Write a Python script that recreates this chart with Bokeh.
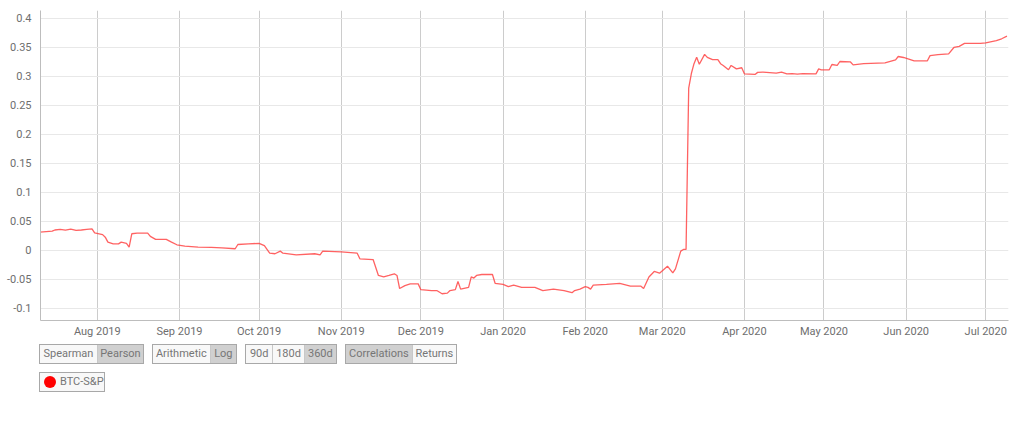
from datetime import datetime
import pandas as pd
from bokeh.plotting import figure
from bokeh.models import (Range1d, MonthsTicker, DatetimeTickFormatter, FixedTicker,
                          CustomJSTickFormatter, Div, ColumnDataSource)
from bokeh.layouts import column
from bokeh.embed import file_html
from bokeh.resources import INLINE

# ---- data ----
series_name = "BTC-S&P"
dates = [
    "2019-07-10", "2019-07-15", "2019-07-16", "2019-07-18", "2019-07-20", "2019-07-22",
    "2019-07-24", "2019-07-26", "2019-07-28", "2019-07-30", "2019-07-31", "2019-08-03",
    "2019-08-04", "2019-08-05", "2019-08-07", "2019-08-09", "2019-08-10", "2019-08-12",
    "2019-08-13", "2019-08-14", "2019-08-16", "2019-08-20", "2019-08-21", "2019-08-23",
    "2019-08-27", "2019-08-29", "2019-08-31", "2019-09-03", "2019-09-08", "2019-09-13",
    "2019-09-17", "2019-09-22", "2019-09-23", "2019-09-27", "2019-10-01", "2019-10-03",
    "2019-10-05", "2019-10-07", "2019-10-09", "2019-10-10", "2019-10-15", "2019-10-22",
    "2019-10-24", "2019-10-25", "2019-11-01", "2019-11-07", "2019-11-08", "2019-11-13",
    "2019-11-15", "2019-11-17", "2019-11-19", "2019-11-21", "2019-11-22", "2019-11-23",
    "2019-11-25", "2019-11-27", "2019-11-30", "2019-12-01", "2019-12-05", "2019-12-07",
    "2019-12-09", "2019-12-11", "2019-12-12", "2019-12-14", "2019-12-15", "2019-12-16",
    "2019-12-19", "2019-12-20", "2019-12-21", "2019-12-22", "2019-12-24", "2019-12-28",
    "2019-12-29", "2020-01-01", "2020-01-03", "2020-01-05", "2020-01-08", "2020-01-13",
    "2020-01-16", "2020-01-20", "2020-01-24", "2020-01-27", "2020-01-28", "2020-01-30",
    "2020-02-01", "2020-02-02", "2020-02-03", "2020-02-04", "2020-02-09", "2020-02-14",
    "2020-02-18", "2020-02-22", "2020-02-23", "2020-02-25", "2020-02-27", "2020-02-29",
    "2020-03-03", "2020-03-05", "2020-03-06", "2020-03-08", "2020-03-09", "2020-03-10",
    "2020-03-11", "2020-03-12", "2020-03-13", "2020-03-14", "2020-03-15", "2020-03-17",
    "2020-03-18", "2020-03-20", "2020-03-22", "2020-03-23", "2020-03-24", "2020-03-26",
    "2020-03-27", "2020-03-29", "2020-03-31", "2020-04-01", "2020-04-05", "2020-04-06",
    "2020-04-08", "2020-04-13", "2020-04-15", "2020-04-17", "2020-04-19", "2020-04-21",
    "2020-04-23", "2020-04-28", "2020-04-29", "2020-04-30", "2020-05-03", "2020-05-04",
    "2020-05-06", "2020-05-07", "2020-05-11", "2020-05-12", "2020-05-16", "2020-05-24",
    "2020-05-28", "2020-05-29", "2020-05-31", "2020-06-02", "2020-06-04", "2020-06-09",
    "2020-06-10", "2020-06-13", "2020-06-17", "2020-06-19", "2020-06-21", "2020-06-23",
    "2020-06-29", "2020-07-01", "2020-07-05", "2020-07-07", "2020-07-09",
]
values = [
    0.031, 0.033, 0.035, 0.0359, 0.0347, 0.0364,
    0.0342, 0.035, 0.036, 0.037, 0.030, 0.027,
    0.0226, 0.014, 0.011, 0.011, 0.014, 0.012,
    0.0054, 0.0285, 0.0295, 0.0295, 0.024, 0.0187,
    0.0187, 0.014, 0.0095, 0.007, 0.0054, 0.005,
    0.004, 0.0026, 0.010, 0.011, 0.012, 0.008,
    -0.005, -0.006, -0.0015, -0.005, -0.0078, -0.006,
    -0.0078, -0.0015, -0.0026, -0.005, -0.0147, -0.016,
    -0.0435, -0.046, -0.0435, -0.0406, -0.0435, -0.066,
    -0.061, -0.058, -0.058, -0.068, -0.0695, -0.0695,
    -0.075, -0.074, -0.0695, -0.068, -0.0538, -0.067,
    -0.064, -0.046, -0.048, -0.0435, -0.0418, -0.0418,
    -0.057, -0.059, -0.0627, -0.060, -0.064, -0.064,
    -0.0695, -0.067, -0.0695, -0.0733, -0.0695, -0.067,
    -0.0627, -0.064, -0.067, -0.0602, -0.059, -0.0573,
    -0.062, -0.062, -0.066, -0.046, -0.0366, -0.0395,
    -0.0274, -0.039, -0.032, -0.0015, 0.0014, 0.0014,
    0.280, 0.305, 0.322, 0.333, 0.321, 0.338,
    0.333, 0.329, 0.329, 0.322, 0.319, 0.3115,
    0.319, 0.313, 0.315, 0.3045, 0.3034, 0.307,
    0.3075, 0.3056, 0.3075, 0.3045, 0.305, 0.304,
    0.305, 0.3045, 0.313, 0.3115, 0.3115, 0.3206,
    0.319, 0.3258, 0.325, 0.320, 0.322, 0.3235,
    0.3287, 0.3344, 0.3327, 0.330, 0.327, 0.327,
    0.336, 0.3378, 0.339, 0.350, 0.352, 0.357,
    0.357, 0.358, 0.362, 0.365, 0.3695,
]
y_ticks = [-0.1, -0.05, 0, 0.05, 0.1, 0.15, 0.2, 0.25, 0.3, 0.35, 0.4]
group_buttons = [
    [("Spearman", False, 58), ("Pearson", True, 47)],
    [("Arithmetic", False, 58), ("Log", True, 27)],
    [("90d", False, 27), ("180d", False, 32), ("360d", True, 33)],
    [("Correlations", True, 67), ("Returns", False, 45)],
]

src = ColumnDataSource(dict(x=pd.to_datetime(dates), y=values))

FONT = "Roboto"
p = figure(
    frame_width=968, frame_height=310, output_backend="svg", toolbar_location=None,
    x_axis_type="datetime",
    x_range=Range1d(datetime(2019, 7, 10, 14), datetime(2020, 7, 9, 14)),
    y_range=Range1d(-0.1212, 0.4138),
    min_border_left=40, min_border_right=8, min_border_top=10, min_border_bottom=22,
)
p.outline_line_color = None
p.line("x", "y", source=src, line_color="#ff3b3b", line_alpha=0.8, line_width=1.3)

p.xaxis.ticker = MonthsTicker(months=list(range(12)))
p.xaxis.formatter = DatetimeTickFormatter(months="%b %Y", days="%b %Y")
p.yaxis.ticker = FixedTicker(ticks=y_ticks)
p.yaxis.formatter = CustomJSTickFormatter(code="return Number(tick.toFixed(2)).toString();")

for ax in (p.xaxis[0], p.yaxis[0]):
    ax.major_tick_line_color = None
    ax.minor_tick_line_color = None
    ax.axis_line_color = "#bdbdbd"
    ax.axis_line_width = 1
    ax.major_label_text_font = FONT
    ax.major_label_text_font_size = "11px"
    ax.major_label_text_color = "#6e6e6e"
p.yaxis.major_label_standoff = 3
p.xaxis.major_label_standoff = -2

p.xgrid.grid_line_color = "#cccccc"
p.ygrid.grid_line_color = "#e8e8e8"
p.xgrid.ticker = p.xaxis[0].ticker
p.ygrid.ticker = p.yaxis[0].ticker

# ---- controls and legend (HTML) ----
groups_html = []
for grp in group_buttons:
    parts = []
    for i, (label, sel, w) in enumerate(grp):
        bg = "#d0d0d0" if sel else "#f8f8f8"
        bl = "border-left:1px solid #c8c8c8;" if i > 0 else ""
        parts.append(
            f'<span style="display:block;flex:0 1 {w}px;box-sizing:border-box;'
            f'min-width:0;overflow:hidden;height:18px;line-height:18px;text-align:center;'
            f'white-space:nowrap;background:{bg};{bl}">{label}</span>'
        )
    tot = sum(w for _, _, w in grp)
    groups_html.append(
        f'<span style="display:flex;flex:none;width:{tot}px;border:1px solid #a8a8a8;'
        'margin-right:8px;box-sizing:border-box;height:20px;">' + "".join(parts) + "</span>"
    )
html = (
    f'<div style="font-family:{FONT};font-size:11px;color:#767676;padding-left:39px;">'
    '<div style="display:flex;height:20px;margin-top:2px;">' + "".join(groups_html) + "</div>"
    '<div style="margin-top:8px;display:inline-flex;align-items:center;box-sizing:border-box;'
    'width:66px;height:20px;border:1px solid #a8a8a8;background:#f8f8f8;white-space:nowrap;">'
    '<span style="display:inline-block;flex:none;width:12px;height:12px;border-radius:6px;background:#ff0000;'
    'margin-left:4px;margin-right:4px;"></span>'
    f'<span>{series_name}</span></div></div>'
)
div = Div(text=html, width=600, height=60, margin=(0, 0, 0, 0))

layout = column(p, div, spacing=0)
open("out.html", "w").write(file_html(layout, INLINE))
